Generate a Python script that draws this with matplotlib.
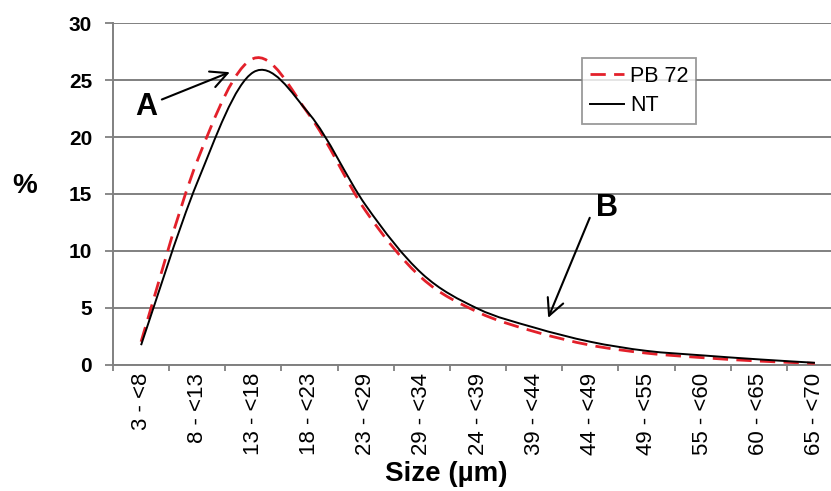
import numpy as np
import matplotlib
matplotlib.use("Agg")
import matplotlib.pyplot as plt
from matplotlib.path import Path
from matplotlib.patches import PathPatch
from matplotlib.lines import Line2D

plt.rcParams['font.family'] = ['Liberation Sans', 'DejaVu Sans']

categories = ["3 - <8", "8 - <13", "13 - <18", "18 - <23", "23 - <29", "29 - <34",
              "24 - <39", "39 - <44", "44 - <49", "49 - <55", "55 - <60", "60 - <65",
              "65 - <70"]
pb72 = [2.0, 17.9, 26.9, 21.9, 13.5, 7.6, 4.6, 2.9, 1.7, 1.0, 0.6, 0.3, 0.1]
nt = [1.7, 16.0, 25.7, 22.0, 14.0, 8.0, 4.9, 3.25, 2.0, 1.2, 0.8, 0.45, 0.15]
yticks = [0, 5, 10, 15, 20, 25, 30]
series_names = ["PB 72", "NT"]

W, H = 831, 491
fig = plt.figure(figsize=(W / 100, H / 100), dpi=100)
ax = fig.add_axes([113 / W, 126.5 / H, 730 / W, 341.2 / H])


def smooth_path(xs, ys):
    pts = np.column_stack([xs, ys]).astype(float)
    n = len(pts)
    verts = [pts[0]]
    codes = [Path.MOVETO]
    for i in range(n - 1):
        p0 = pts[i - 1] if i > 0 else pts[i]
        p1 = pts[i]
        p2 = pts[i + 1]
        p3 = pts[i + 2] if i + 2 < n else pts[i + 1]
        c1 = p1 + (p2 - p0) / 6.0
        c2 = p2 - (p3 - p1) / 6.0
        verts += [c1, c2, p2]
        codes += [Path.CURVE4] * 3
    return Path(verts, codes)


xpos = np.arange(len(categories))
red = '#e3202a'
ax.add_patch(PathPatch(smooth_path(xpos, pb72), fill=False, edgecolor=red,
                       lw=2.0, linestyle=(0, (5.5, 3)), zorder=3))
ax.add_patch(PathPatch(smooth_path(xpos, nt), fill=False, edgecolor='black',
                       lw=1.4, zorder=4))

ax.set_xlim(-0.5, len(categories) - 0.5)
ax.set_ylim(0, 30)
ax.set_yticks(yticks)
ax.set_yticklabels([str(v) for v in yticks], fontsize=15, fontweight='bold')
ax.yaxis.grid(True, color='#808080', lw=1.4)
ax.set_axisbelow(True)

ax.set_xticks(np.arange(-0.5, len(categories), 1.0))
ax.set_xticklabels([])
ax.set_xticks(xpos, minor=True)
ax.set_xticklabels(categories, minor=True, rotation=90, fontsize=16)
ax.tick_params(axis='x', which='minor', length=0, pad=6)
ax.tick_params(axis='x', which='major', length=4, color='#808080', width=1.3)
ax.tick_params(axis='y', length=6, color='#808080', width=1.3, pad=9)

for s in ['top', 'right']:
    ax.spines[s].set_visible(False)
for s in ['left', 'bottom']:
    ax.spines[s].set_color('#808080')
    ax.spines[s].set_linewidth(1.4)

handles = [Line2D([], [], color=red, lw=2.0, linestyle=(0, (5.5, 3))),
           Line2D([], [], color='black', lw=1.4)]
leg = ax.legend(handles, series_names, loc='upper left',
                bbox_to_anchor=((582 - 113) / 730, (364.5 - 58) / 341.2),
                fontsize=15.5, frameon=True, fancybox=False, handlelength=1.6,
                handletextpad=0.3, borderpad=0.35, labelspacing=0.4,
                borderaxespad=0)
leg.get_frame().set_edgecolor('#808080')
leg.get_frame().set_linewidth(1.3)

# annotations
ax.text(0.09, 22.6, "A", fontsize=22, fontweight='bold', ha='center', va='center')
ax.annotate('', xy=(1.58, 25.7), xytext=(0.37, 23.3),
            arrowprops=dict(arrowstyle='->,head_length=0.6,head_width=0.3',
                            color='black', lw=1.5, mutation_scale=20,
                            shrinkA=0, shrinkB=0))
ax.text(8.29, 13.8, "B", fontsize=22, fontweight='bold', ha='center', va='center')
ax.annotate('', xy=(7.25, 4.1), xytext=(7.99, 12.9),
            arrowprops=dict(arrowstyle='->,head_length=0.6,head_width=0.3',
                            color='black', lw=1.5, mutation_scale=20,
                            shrinkA=0, shrinkB=0))

fig.text(25 / W, 1 - 186 / H, "%", fontsize=20, fontweight='bold',
         ha='center', va='center')
fig.text(446 / W, 1 - 474 / H, "Size (µm)", fontsize=20, fontweight='bold',
         ha='center', va='center')

fig.savefig('out.png', dpi=100)
